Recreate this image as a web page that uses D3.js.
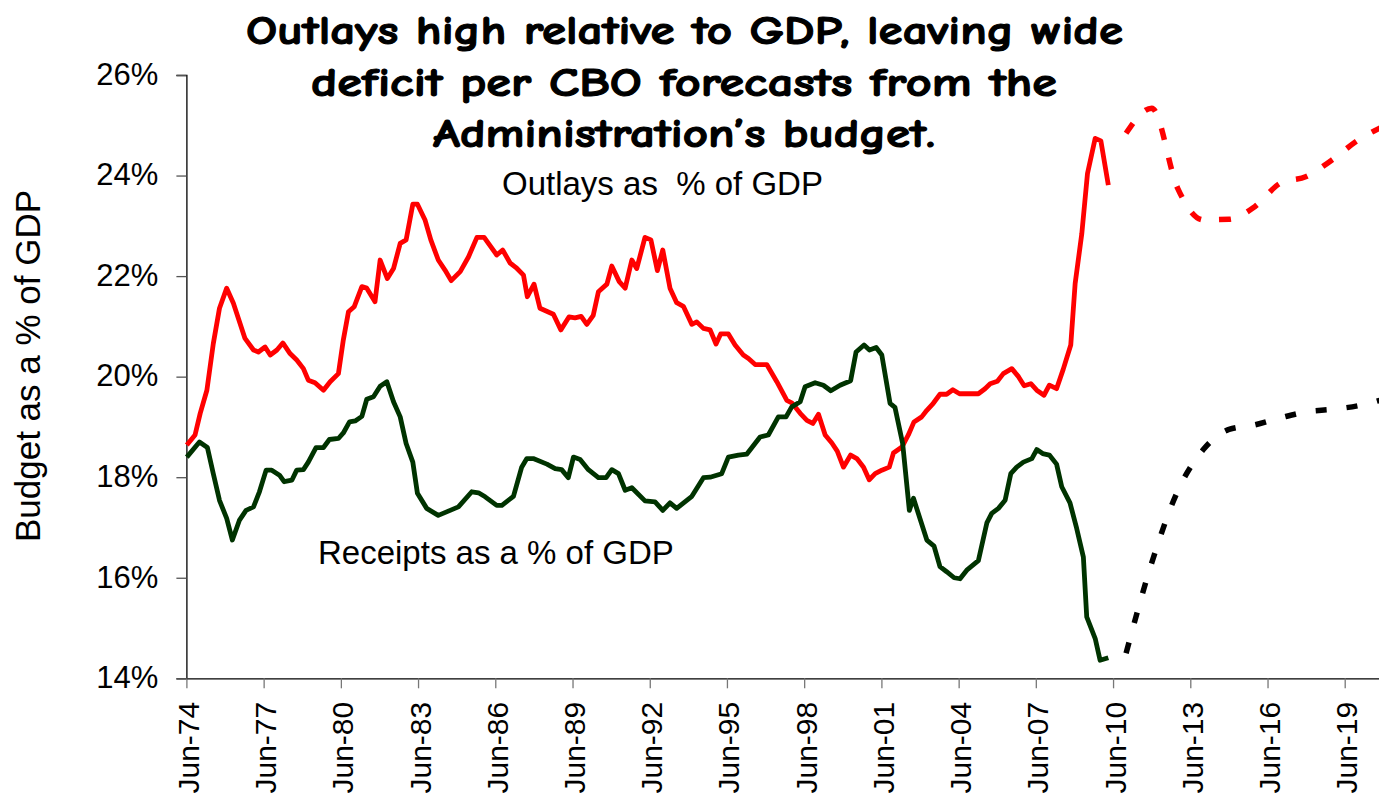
<!DOCTYPE html>
<html>
<head>
<meta charset="utf-8">
<script src="https://cdn.jsdelivr.net/npm/d3@7"></script>
<style>
  html, body { margin: 0; padding: 0; background: #fff; }
  svg { display: block; }
</style>
</head>
<body>
<svg id="chart" width="1379" height="802"></svg>
<script>
// Fiscal aggregates as a share of GDP (decimal year, percent)
const outlayYears = [1974.43,1974.75,1974.95,1975.21,1975.46,1975.70,1975.98,1976.24,1976.69,1977.02,
  1977.21,1977.47,1977.67,1977.93,1978.16,1978.44,1978.70,1978.96,1979.15,1979.41,
  1979.74,1980.00,1980.32,1980.51,1980.71,1980.93,1981.23,1981.42,1981.74,1981.94,
  1982.22,1982.46,1982.72,1982.95,1983.21,1983.39,1983.69,1983.91,1984.20,1984.46,
  1984.70,1985.05,1985.37,1985.70,1985.98,1986.47,1986.70,1986.99,1987.22,1987.51,
  1987.66,1987.92,1988.15,1988.67,1988.96,1989.28,1989.51,1989.75,1989.97,1990.22,
  1990.42,1990.75,1990.94,1991.23,1991.46,1991.72,1991.91,1992.23,1992.46,1992.71,
  1992.92,1993.20,1993.46,1993.72,1994.05,1994.24,1994.50,1994.76,1994.99,1995.17,
  1995.47,1995.73,1996.05,1996.25,1996.51,1996.96,1997.35,1997.74,1997.93,1998.26,
  1998.52,1998.75,1998.97,1999.23,1999.49,1999.70,1999.94,2000.22,2000.46,2000.72,
  2000.94,2001.17,2001.43,2001.72,2001.88,2002.21,2002.46,2002.68,2002.98,2003.18,
  2003.43,2003.69,2003.95,2004.19,2004.45,2005.18,2005.44,2005.64,2005.92,2006.15,
  2006.48,2006.74,2006.96,2007.22,2007.45,2007.73,2007.94,2008.22,2008.48,2008.77,
  2008.94,2009.20,2009.42,2009.72,2009.94,2010.23];
const outlayValues = [18.64,18.84,19.27,19.73,20.66,21.36,21.76,21.46,20.76,20.53,
  20.49,20.59,20.43,20.53,20.67,20.46,20.33,20.16,19.93,19.88,
  19.73,19.90,20.06,20.73,21.29,21.39,21.79,21.76,21.49,22.32,
  21.95,22.15,22.65,22.72,23.43,23.43,23.11,22.72,22.32,22.12,
  21.91,22.09,22.38,22.77,22.77,22.42,22.52,22.26,22.17,22.02,
  21.59,21.84,21.36,21.24,20.93,21.19,21.17,21.20,21.04,21.22,
  21.69,21.84,22.20,21.89,21.76,22.32,22.15,22.77,22.72,22.11,
  22.52,21.76,21.47,21.40,21.04,21.09,20.96,20.93,20.65,20.85,
  20.85,20.63,20.43,20.36,20.24,20.24,19.90,19.53,19.48,19.27,
  19.13,19.07,19.25,18.84,18.68,18.52,18.20,18.44,18.37,18.20,
  17.95,18.07,18.14,18.20,18.48,18.60,18.84,19.10,19.20,19.33,
  19.47,19.65,19.65,19.74,19.66,19.66,19.76,19.86,19.91,20.06,
  20.16,20.00,19.82,19.86,19.73,19.63,19.83,19.76,20.15,20.63,
  21.85,22.85,24.04,24.74,24.69,23.81];

const receiptYears = [1974.43,1974.92,1975.23,1975.46,1975.70,1975.98,1976.20,1976.47,1976.73,1977.02,
  1977.25,1977.51,1977.73,1978.03,1978.21,1978.51,1978.70,1978.96,1979.15,1979.45,
  1979.74,1979.97,1980.32,1980.51,1980.75,1980.97,1981.23,1981.42,1981.68,1981.94,
  1982.20,1982.46,1982.72,1982.95,1983.21,1983.39,1983.75,1984.20,1984.66,1984.98,
  1985.50,1985.76,1986.02,1986.47,1986.67,1987.12,1987.44,1987.64,1987.89,1988.42,
  1988.74,1988.99,1989.25,1989.45,1989.71,1990.03,1990.42,1990.72,1990.94,1991.20,
  1991.46,1991.72,1992.23,1992.62,1992.92,1993.20,1993.46,1994.05,1994.50,1994.76,
  1995.21,1995.47,1995.86,1996.19,1996.70,1997.02,1997.41,1997.71,1997.93,1998.26,
  1998.45,1998.84,1999.16,1999.45,1999.81,2000.22,2000.43,2000.74,2000.95,2001.21,
  2001.43,2001.75,2001.94,2002.24,2002.50,2002.66,2003.18,2003.46,2003.69,2003.95,
  2004.24,2004.47,2004.73,2005.18,2005.51,2005.70,2005.96,2006.22,2006.44,2006.67,
  2006.93,2007.26,2007.45,2007.68,2007.94,2008.22,2008.42,2008.74,2009.00,2009.26,
  2009.39,2009.72,2009.91,2010.23];
const receiptValues = [18.40,18.70,18.59,18.07,17.54,17.18,16.75,17.14,17.34,17.41,
  17.71,18.14,18.14,18.04,17.91,17.94,18.14,18.15,18.30,18.59,
  18.59,18.75,18.77,18.88,19.10,19.12,19.21,19.55,19.60,19.81,
  19.90,19.50,19.20,18.67,18.30,17.68,17.38,17.24,17.34,17.41,
  17.71,17.69,17.61,17.44,17.44,17.62,18.20,18.37,18.37,18.26,
  18.17,18.15,17.99,18.40,18.35,18.15,17.99,17.99,18.15,18.07,
  17.74,17.79,17.53,17.51,17.34,17.49,17.38,17.62,17.99,18.00,
  18.07,18.40,18.44,18.46,18.80,18.84,19.20,19.20,19.40,19.50,
  19.80,19.88,19.83,19.72,19.83,19.92,20.49,20.63,20.53,20.58,
  20.43,19.47,19.39,18.67,17.34,17.58,16.75,16.63,16.22,16.12,
  16.00,15.98,16.15,16.34,17.09,17.28,17.38,17.54,18.07,18.20,
  18.30,18.37,18.55,18.47,18.44,18.26,17.81,17.49,16.98,16.41,
  15.22,14.79,14.36,14.41];

// CBO projections of the Administration's budget
const forecastYears = [2010.92,2011.92,2012.92,2013.92,2014.92,2015.92,2016.92,2017.92,2018.92,2019.92,2020.92];
const outlayForecast = [24.84,25.34,23.75,23.12,23.13,23.38,23.85,23.98,24.31,24.70,24.98];
const receiptForecast = [14.50,16.30,17.72,18.55,18.95,19.04,19.18,19.30,19.35,19.42,19.55];

const yTicks = [14,16,18,20,22,24,26];
const xTickLabels = ["Jun-74","Jun-77","Jun-80","Jun-83","Jun-86","Jun-89","Jun-92","Jun-95",
  "Jun-98","Jun-01","Jun-04","Jun-07","Jun-10","Jun-13","Jun-16","Jun-19"];

const titleLines = ["Outlays high relative to GDP, leaving wide",
  "deficit per CBO forecasts from the",
  "Administration\u2019s budget."];

// ---------------------------------------------------------------
const W = 1379, H = 802;
const svg = d3.select("#chart");
svg.append("rect").attr("width", W).attr("height", H).attr("fill", "#fff");

const toDate = yr => {
  const y0 = Math.floor(yr);
  const a = new Date(y0, 0, 1), b = new Date(y0 + 1, 0, 1);
  return new Date(+a + (yr - y0) * (b - a));
};
const parseTick = d3.timeParse("%b-%y");
const tickDates = xTickLabels.map(parseTick);

// time axis: first and last labelled ticks anchor the scale, which then runs to the right edge
const x0 = 186.4, x1 = 1344.7;
const xBase = d3.scaleTime().domain([tickDates[0], tickDates[tickDates.length - 1]]).range([x0, x1]);
const x = d3.scaleTime().domain([tickDates[0], xBase.invert(W)]).range([x0, W]);
const y = d3.scaleLinear().domain([14, 26]).range([678.3, 75]);

const fontAxis = "'Liberation Sans', Arial, sans-serif";

// y axis
const gy = svg.append("g").attr("transform", `translate(${x0},0)`)
  .call(d3.axisLeft(y).tickValues(yTicks).tickSize(10).tickPadding(18).tickFormat(d => d + "%"));
gy.select(".domain").attr("stroke", "#000").attr("stroke-width", 1.3);
gy.selectAll(".tick line").attr("stroke", "#555").attr("stroke-width", 1.3);
gy.selectAll(".tick text").attr("font-family", fontAxis).attr("font-size", 31).attr("fill", "#000").attr("dy", "0.3em");

// x axis
const gx = svg.append("g").attr("transform", `translate(0,${y(14)})`)
  .call(d3.axisBottom(x).tickValues(tickDates).tickSize(10).tickSizeOuter(0)
    .tickFormat((d, i) => xTickLabels[i]));
gx.select(".domain").attr("stroke", "#000").attr("stroke-width", 1.3);
gx.selectAll(".tick line").attr("stroke", "#777").attr("stroke-width", 1.3);
gx.selectAll(".tick text")
  .attr("font-family", fontAxis).attr("font-size", 30).attr("fill", "#000")
  .attr("transform", "rotate(-90)")
  .attr("text-anchor", "end")
  .attr("x", -23.5).attr("y", 0).attr("dy", "0.4em");

// series lines
const solid = d3.line().x(d => x(d.date)).y(d => y(d.v));
const smooth = d3.line().x(d => x(d.date)).y(d => y(d.v)).curve(d3.curveMonotoneX);
const zipSeries = (yrs, vals) => yrs.map((yr, i) => ({ date: toDate(yr), v: vals[i] }));

svg.append("path").datum(zipSeries(outlayYears, outlayValues))
  .attr("d", solid).attr("fill", "none").attr("stroke", "#ff0000")
  .attr("stroke-width", 4.8).attr("stroke-linejoin", "round");

svg.append("path").datum(zipSeries(receiptYears, receiptValues))
  .attr("d", solid).attr("fill", "none").attr("stroke", "#003300")
  .attr("stroke-width", 4.8).attr("stroke-linejoin", "round");

svg.append("path").datum(zipSeries(forecastYears, outlayForecast))
  .attr("d", smooth).attr("fill", "none").attr("stroke", "#ff0000")
  .attr("stroke-width", 5.5).attr("stroke-dasharray", "12,18");

svg.append("path").datum(zipSeries(forecastYears, receiptForecast))
  .attr("d", smooth).attr("fill", "none").attr("stroke", "#000")
  .attr("stroke-width", 5.5).attr("stroke-dasharray", "11,20");

// series labels
svg.append("text").attr("x", 502).attr("y", 195)
  .attr("font-family", fontAxis).attr("font-size", 33).style("white-space", "pre")
  .text("Outlays as  % of GDP");
svg.append("text").attr("x", 318).attr("y", 564)
  .attr("font-family", fontAxis).attr("font-size", 33)
  .text("Receipts as a % of GDP");

// y-axis title
svg.append("text")
  .attr("transform", `translate(40,366) rotate(-90)`)
  .attr("text-anchor", "middle")
  .attr("font-family", fontAxis).attr("font-size", 35)
  .text("Budget as a % of GDP");

// title
const titleX = [246, 311, 433], titleW = [877, 746, 502], titleY = [44, 96, 147];
svg.append("g").selectAll("text").data(titleLines).join("text")
  .attr("x", (d, i) => titleX[i]).attr("y", (d, i) => titleY[i])
  .attr("textLength", (d, i) => titleW[i]).attr("lengthAdjust", "spacingAndGlyphs")
  .attr("font-family", "'Comic Sans MS', 'Comic Neue', 'DejaVu Sans', sans-serif")
  .attr("font-weight", "bold").attr("font-size", 41).attr("fill", "#000")
  .attr("stroke", "#000").attr("stroke-width", 1.1).attr("stroke-linejoin", "round")
  .text(d => d);
</script>
</body>
</html>
